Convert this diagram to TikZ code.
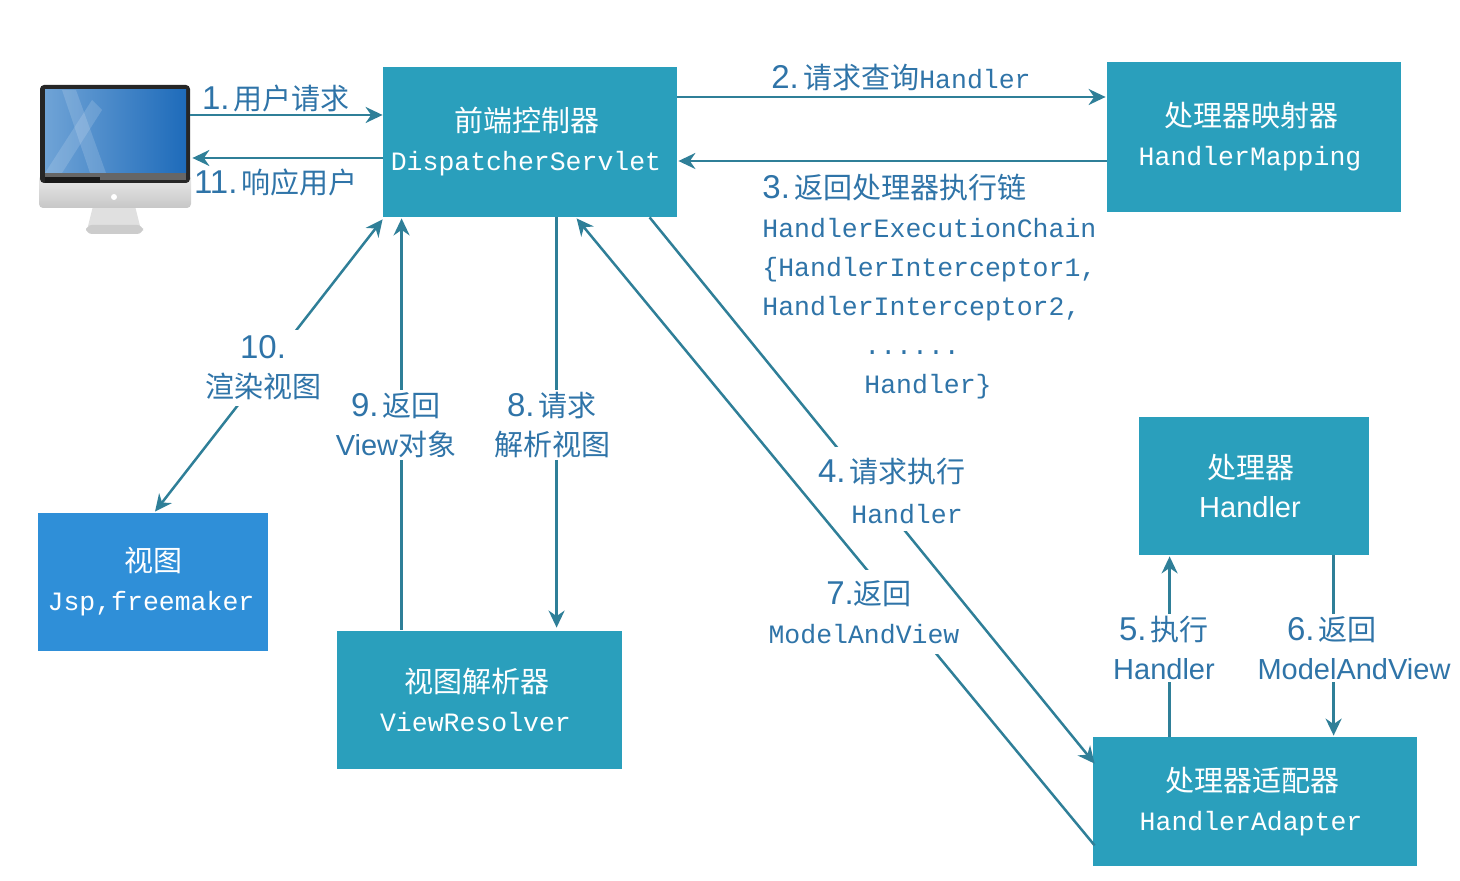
\documentclass[tikz,border=0pt]{standalone}
\usepackage{fontspec}
\setmainfont{Liberation Mono}
\newfontfamily\cjk{Noto Sans CJK SC}
\newfontfamily\latinsans{Liberation Sans}
\usetikzlibrary{positioning}
\usetikzlibrary{calc}
\usetikzlibrary{arrows.meta}
\definecolor{boxteal}{HTML}{2A9FBC}
\definecolor{boxblue}{HTML}{2F8FD8}
\definecolor{linkteal}{HTML}{2F7F98}
\definecolor{textblue}{HTML}{2F74A8}
\newcommand{\cn}[1]{{\fontsize{14.5}{19.5}\cjk\selectfont #1}}
\newcommand{\stepno}[1]{{\fontsize{16.5}{19.5}\latinsans\selectfont #1}}
\newcommand{\sanslat}[1]{{\fontsize{14.5}{19.5}\latinsans\selectfont #1}}
\newcommand{\boxlines}[2]{\cn{#1}\hspace*{3pt}\\#2\hspace*{4pt}}
\tikzset{
  box/.style={fill=boxteal, text=white, inner sep=0pt, align=center, font=\fontsize{13.25}{19.5}\selectfont},
  link/.style={draw=linkteal, line width=1.25pt},
  lbl/.style={text=textblue, inner sep=1pt, align=center, font=\fontsize{13.25}{19.5}\selectfont},
  gap/.style={lbl, fill=white},
}
\begin{document}
\begin{tikzpicture}[x=0.5pt, y=-0.5pt, >={Stealth[length=8.5pt,width=8pt]}]
\useasboundingbox (0,0) rectangle (1460,881);
% boxes
\node[box, minimum width=147pt, minimum height=75pt] (front) at (530,142) {\boxlines{前端控制器}{DispatcherServlet}};
\node[box, minimum width=147pt, minimum height=75pt] (mapper) at (1254,137) {\boxlines{处理器映射器}{HandlerMapping}};
\node[box, minimum width=115pt, minimum height=69pt] (handler) at (1254,486) {\boxlines{处理器}{\sanslat{Handler}}};
\node[box, minimum width=162pt, minimum height=64.5pt] (adapter) at (1255,801.5) {\boxlines{处理器适配器}{HandlerAdapter}};
\node[box, fill=boxblue, minimum width=115pt, minimum height=69pt] (view) at (153,582) {\cn{视图}\\Jsp,freemaker\hspace*{2pt}};
\node[box, minimum width=142.5pt, minimum height=69pt] (resolver) at (479.5,700) {\boxlines{视图解析器}{ViewResolver}};
% monitor
\node[minimum width=75pt, minimum height=62pt, inner sep=0pt] (pc) at (115,147) {};
\fill[black!12] (93,206) -- (135,206) -- (140,226) -- (88,226) -- cycle;
\fill[black!20, rounded corners=3pt] (86,225) rectangle (143,234);
\shade[top color=black!8, bottom color=black!22, rounded corners=2pt] (39,175) rectangle (191,208);
\fill[white] (114,197) circle (3);
\fill[black!85, rounded corners=2pt] (40,85) rectangle (190,183);
\shade[left color={rgb,255:red,111;green,163;blue,214}, right color={rgb,255:red,30;green,107;blue,186}] (45,90) rectangle (186,173);
\fill[white, opacity=0.15] (62,90) -- (76,90) -- (106,173) -- (90,173) -- cycle;
\fill[white, opacity=0.15] (92,100) -- (102,110) -- (62,173) -- (45,173) -- cycle;
\fill[black!60] (45,173) rectangle (186,180);
\fill[black!90] (45,177) rectangle (100,183);
% connectors
\draw[link, ->] ($(pc.east)+(0,-32)$) -- ($(front.west)+(0,-27)$);
\draw[link, ->] ($(front.west)+(0,16)$) -- ($(pc.east)+(2,11)$);
\draw[link, ->] ($(front.east)+(0,-45)$) -- ($(mapper.west)+(-1,-40)$);
\draw[link, ->] ($(mapper.west)+(0,24)$) -- ($(front.east)+(1,19)$);
\draw[link, <->] ($(front.south west)+(0,2)$) -- ($(view.north)+(2,-1)$);
\draw[link, ->] ($(resolver.north west)+(65,-1)$) -- ($(front.south west)+(19,1)$);
\draw[link, ->] ($(front.south west)+(174,0)$) -- ($(resolver.north west)+(220,-3)$);
\draw[link, ->] ($(adapter.south west)+(2,-21)$) -- ($(front.south west)+(194,1)$);
\node[gap, inner ysep=5pt] (ret) at (864,612) {\hspace*{5pt}\stepno{7.}\cn{返回}\\ModelAndView};
\draw[link, ->] ($(front.south west)+(267,0)$) -- ($(adapter.north west)+(2,27)$);
\node[gap, minimum height=25pt] (askrun) at (892,472) {\stepno{4.}\,\cn{请求执行}};
\node[gap, minimum height=17pt] (askname) at (907,514) {Handler};
\draw[link, ->] ($(adapter.north west)+(77,0)$) -- ($(handler.south west)+(31,1)$);
\draw[link, ->] ($(handler.south west)+(195,0)$) -- ($(adapter.north west)+(241,-1)$);
% labels
\node[lbl] (ask) at (276,99) {\stepno{1.}\,\cn{用户请求}};
\node[lbl] (reply) at (276,182) {\stepno{11.}\,\cn{响应用户}};
\node[lbl] (query) at (901,78) {\stepno{2.}\,\cn{请求查询}Handler};
\node[lbl, anchor=north west, align=left] (chain) at (760,172) {\stepno{3.}\,\cn{返回处理器执行链}\\HandlerExecutionChain\\\{HandlerInterceptor1,\\HandlerInterceptor2,\\\hspace*{51pt}......\\\hspace*{51pt}Handler\}};
\node[gap, inner ysep=3pt] (render) at (263,368) {\stepno{10.}\\\cn{渲染视图}};
\node[gap] (back) at (396,425) {\stepno{9.}\,\cn{返回}\\\sanslat{View}\cn{对象}};
\node[gap] (parse) at (552,425) {\stepno{8.}\,\cn{请求}\\\cn{解析视图}};
\node[gap] (exec) at (1164,648) {\stepno{5.}\,\cn{执行}\\\sanslat{Handler}};
\node[gap] (done) at (1354,648) {\stepno{6.}\,\cn{返回}\hspace*{22pt}\\\sanslat{ModelAndView}};
\end{tikzpicture}
\end{document}
